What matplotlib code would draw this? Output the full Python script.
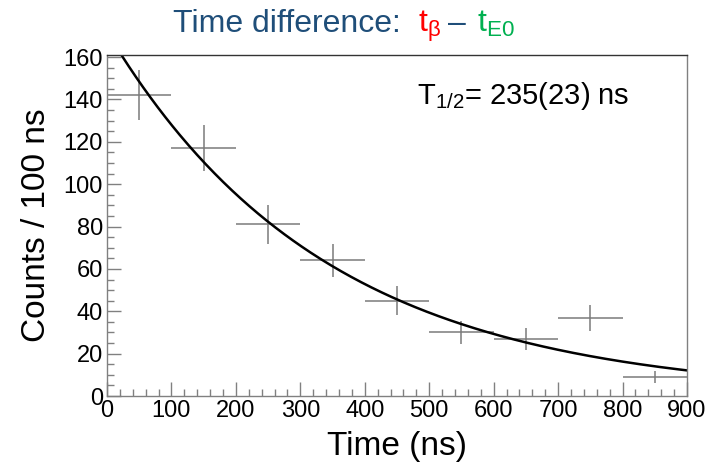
import numpy as np
import matplotlib.pyplot as plt

plt.rcParams['font.family'] = ['Liberation Sans', 'DejaVu Sans']
plt.rcParams['mathtext.fontset'] = 'custom'
plt.rcParams['mathtext.rm'] = 'Liberation Sans'
plt.rcParams['mathtext.it'] = 'Liberation Sans'

# histogram: 100 ns bins
bin_centers = [50, 150, 250, 350, 450, 550, 650, 750, 850]
counts = [142, 117, 81, 64, 45, 30, 27, 37, 9]
bin_half_width = 50

# fit: N(t) = A * exp(-t ln2 / T_half)
fit_amp = 172
t_half = 235
fit_label = r'T$_{\mathrm{1/2}}$= 235(23) ns'

W, H = 713, 472
fig = plt.figure(figsize=(W / 100, H / 100), dpi=100)
ax = fig.add_axes([0.150, 0.161, 0.8135, 0.7225])

counts = np.array(counts, dtype=float)
ax.errorbar(bin_centers, counts, xerr=bin_half_width, yerr=np.sqrt(counts),
            fmt='none', ecolor='#7a7a7a', elinewidth=1.1, capsize=0)

t = np.linspace(0, 900, 400)
ax.plot(t, fit_amp * np.exp(-t * np.log(2) / t_half), color='black', lw=1.8)

ax.set_xlim(0, 900)
ax.set_ylim(0, 161)
ax.set_xticks(np.arange(0, 901, 100))
ax.set_yticks(np.arange(0, 161, 20))
ax.set_xticks(np.arange(0, 901, 20), minor=True)
ax.set_yticks(np.arange(0, 161, 5), minor=True)
ax.tick_params(which='both', direction='in', color='#808080', labelsize=17,
               top=False, right=False, pad=3)
ax.tick_params(which='major', length=10, width=1.0)
ax.tick_params(which='minor', length=5, width=1.0)
for s in ax.spines.values():
    s.set_color('#808080')
    s.set_linewidth(1.0)
ax.spines['top'].set_color('#333333')

ax.set_xlabel('Time (ns)', fontsize=24, labelpad=6)
ax.set_ylabel('Counts / 100 ns', fontsize=24, labelpad=8)

fig.text(417 / W, 1 - 104 / H, fit_label, fontsize=21, color='black',
         ha='left', va='baseline')

# title with coloured pieces
ty = 1 - 32 / H
fig.text(173 / W, ty, 'Time difference:', fontsize=23, color='#1F4E79',
         ha='left', va='baseline')
fig.text(418 / W, ty, r'$\mathrm{t_{\beta}}$', fontsize=23, color='#FF0000',
         ha='left', va='baseline')
fig.text(448 / W, ty, '\u2013', fontsize=23, color='#1F4E79',
         ha='left', va='baseline')
fig.text(477 / W, ty, r'$\mathrm{t_{E0}}$', fontsize=23, color='#00B050',
         ha='left', va='baseline')

fig.savefig('out.png', dpi=100)
